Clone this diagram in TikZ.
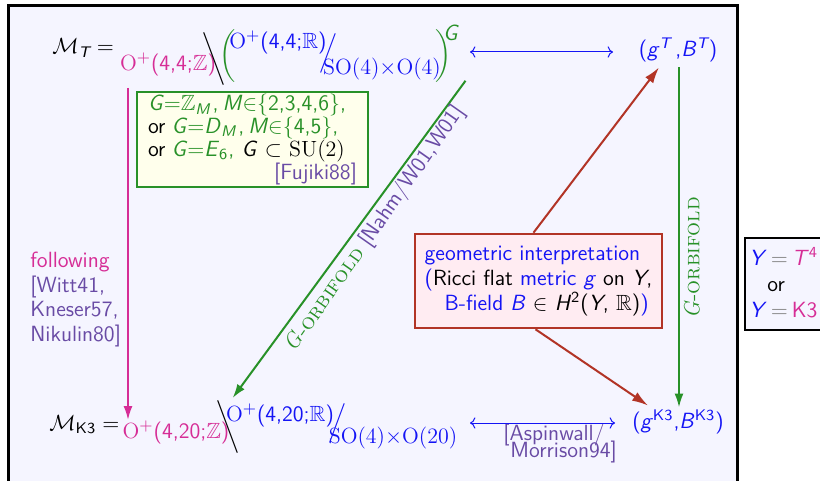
\documentclass[11pt,tikz,border=0pt]{standalone}
\usepackage{amsmath,amssymb}
\usepackage{tikz}
\usetikzlibrary{arrows.meta,positioning,calc}
\usepackage{xcolor}
\renewcommand{\familydefault}{\sfdefault}
\definecolor{myblue}{RGB}{20,20,245}
\definecolor{mymagenta}{RGB}{214,45,150}
\definecolor{mygreen}{RGB}{40,145,40}
\definecolor{mypurple}{RGB}{105,75,165}
\definecolor{myred}{RGB}{178,52,38}
\definecolor{framebg}{RGB}{245,245,255}
\definecolor{notebg}{RGB}{255,255,236}
\definecolor{geobg}{RGB}{255,236,242}
\newcommand{\slidefont}{\fontsize{11}{12.5}\selectfont}
\newcommand{\tightfont}{\fontsize{11}{8.5}\selectfont\lineskiplimit=-10pt\relax}
\newcommand{\mv}[1]{\textit{#1}}
\newcommand{\orbi}{\textrm{\textit{G}-\textsc{orbifold}}}

\begin{document}
\begin{tikzpicture}[x=0.5pt,y=-0.5pt,
    every node/.style={font=\slidefont,inner sep=1pt},
    delim/.style={inner sep=0pt},
    dualarrow/.style={myblue,line width=0.5pt,<->},
    orbarrow/.style={mygreen,line width=1pt,-{Latex[length=7pt,width=4.5pt]}},
    magarrow/.style={mymagenta,line width=1pt,-{Latex[length=7pt,width=4.5pt]}},
    geoarrow/.style={myred,line width=1pt,-{Latex[length=8pt,width=5pt]}}]
  \fill[white] (0,0) rectangle (820,481);
  \useasboundingbox (0,0) rectangle (820,481);
  \draw[line width=1.5pt,fill=framebg] (8,6) rectangle (737,500);
  \draw[line width=1pt,fill=framebg] (745,238) rectangle (830,330);

  % torus row
  \node[anchor=west] (mT) at (50,48) {$\mathcal{M}_{\mv{T}} =$};
  \node[text=mymagenta] (gamT) at (168,64) {\textrm{O}$^+$(4,4;$\mathbb{Z}$)};
  \node[delim] (bsT) at (214,59) {$\bigg\backslash$};
  \node[delim,text=mygreen] (lpT) at (228,56) {$\bigg($};
  \node[text=myblue] (numT) at (278,42) {\textrm{O}$^+$(4,4;$\mathbb{R}$)};
  \node[delim,text=myblue] (slT) at (328,53) {$\Big/$};
  \node[text=myblue] (denT) at (382,69) {\textrm{SO(4)}$\times$\textrm{O(4)}};
  \node[delim,text=mygreen] (rpT) at (444,56) {$\bigg)$};
  \node[text=mygreen] (expT) at (451,33) {\mv{G}};
  \node[text=myblue] (gT) at (678,50) {(\mv{g}$^{\mv{T}}$\,,\mv{B}$^{\mv{T}}$)};

  % K3 row
  \node[anchor=west] (mK) at (47,425) {$\mathcal{M}_{\text{K3}} =$};
  \node[text=mymagenta] (gamK) at (176,432) {\textrm{O}$^+$(4,20;$\mathbb{Z}$)};
  \node[delim] (bsK) at (228,427) {$\bigg\backslash$};
  \node[text=myblue] (numK) at (280,415) {\textrm{O}$^+$(4,20;$\mathbb{R}$)};
  \node[delim,text=myblue] (slK) at (337,423) {$\Big/$};
  \node[text=myblue] (denK) at (393,438) {\textrm{SO(4)}$\times$\textrm{O(20)}};
  \node[text=myblue] (gK) at (678,422) {(\mv{g}$^{\text{K3}}$,\mv{B}$^{\text{K3}}$)};

  % boxes and labels
  \node[draw=mygreen,line width=1.3pt,fill=notebg,text width=104.5pt,
    minimum height=47.5pt,inner xsep=5.5pt,align=left,
    font=\fontsize{11}{11.4}\selectfont] (note) at (252.5,139.5)
    {\textcolor{mygreen}{\mv{G}$=$$\mathbb{Z}_{\mv{M}}$\hspace{1pt},\hspace{2pt}\mv{M}$\in$\{2,3,4,6\},}\\
     or\hspace{3pt}\textcolor{mygreen}{\mv{G}$=$\mv{D}$_{\mv{M}}$\hspace{1pt},\hspace{2pt}\mv{M}$\in$\{4,5\},}\\
     or\hspace{3pt}\textcolor{mygreen}{\mv{G}$=$\mv{E}$_{\text{6}}$,} \mv{G} $\subset$ \textrm{SU(2)}\\
     \hspace*{\fill}\textcolor{mypurple}{[Fujiki88]}};
  \node[draw=myred,line width=1.3pt,fill=geobg,minimum width=123.5pt,
    minimum height=47pt,align=left] (geo) at (538.5,281)
    {\textcolor{myblue}{geometric interpretation}\\
     \textcolor{myblue}{(}Ricci flat \textcolor{myblue}{metric \mv{g}} on \mv{Y},\\
     \hspace*{10pt}\textcolor{myblue}{B-field \mv{B}} $\in$ \mv{H}$^{\text{2}}$(\mv{Y}, $\mathbb{R}$)\textcolor{myblue}{)}};
  \node[anchor=north west,align=left,font=\fontsize{11}{12.2}\selectfont] (witt) at (28,250)
    {\textcolor{mymagenta}{following}\\ \textcolor{mypurple}{[Witt41,}\\
     \textcolor{mypurple}{Kneser57,}\\ \textcolor{mypurple}{Nikulin80]}};
  \node[anchor=north west,align=left,font=\fontsize{11}{13}\selectfont] (ybox) at (747,245)
    {\textcolor{myblue}{\mv{Y}}\hspace{2pt}\textcolor{gray}{$=$}\hspace{2pt}\textcolor{mymagenta}{\mv{T}$^{\text{4}}$}\\
     \hspace*{9pt}or\\
     \textcolor{myblue}{\mv{Y}}\hspace{2pt}\textcolor{gray}{$=$}\hspace{2pt}\textcolor{mymagenta}{K3}};
  \node[anchor=north west,align=left,text=mypurple,font=\tightfont] (asp) at (501,422)
    {[Aspinwall/\\ \hspace*{3.5pt}Morrison94]};

  % connectors
  \coordinate (lT) at (470,52);
  \coordinate (rT) at (613,52);
  \coordinate (lK) at (470,423);
  \coordinate (rK) at (615,423);
  \coordinate (magtop) at (128,88);
  \draw[dualarrow] (lT) -- (rT);
  \draw[dualarrow] (lK) -- (rK);
  \draw[magarrow] (magtop) -- ($(magtop |- gamK.north)+(0,2)$);
  \draw[orbarrow] ($(rpT.south east)+(13,-2)$) -- ($(numK.north west)+(9,-3)$)
    node[pos=0.44,rotate=54.9,anchor=north,inner sep=1.5pt]
    {\textcolor{mygreen}{\orbi} \textcolor{mypurple}{[Nahm/W01,W01]}};
  \draw[orbarrow] ($(gT.south)+(1,3)$) -- ($(gK.north)+(1,0)$)
    node[pos=0.56,rotate=90,anchor=north,inner sep=2pt,text=mygreen] {\orbi};
  \draw[geoarrow] ($(geo.north)+(-5,0)$) -- ($(gT.south)+(-19,3)$);
  \draw[geoarrow] ($(geo.south)+(-3,0)$) -- ($(gK.north)+(-30,-2)$);
\end{tikzpicture}
\end{document}
